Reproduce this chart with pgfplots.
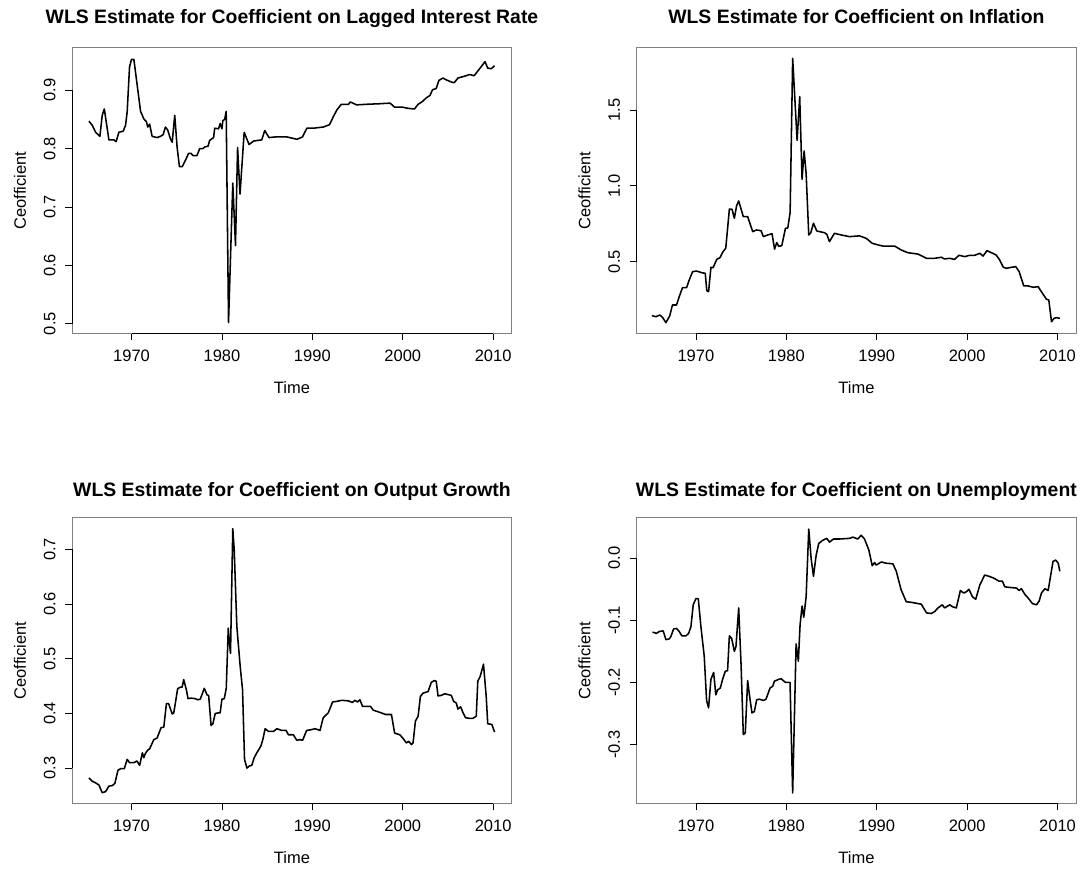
\documentclass[border=0pt]{standalone}
\usepackage{pgfplots}
\pgfplotsset{compat=1.18}
\usepackage{fontspec}
\setmainfont{Liberation Sans}
\pgfplotsset{
  rpanel/.style={
    scale only axis, width=439.4pt, height=285.6pt,
    xmin=1963.45, xmax=2012.05,
    xtick={1970,1980,1990,2000,2010},
    xticklabels={1970,1980,1990,2000,2010},
    tick pos=left, tick align=outside, major tick length=7pt,
    tick style={black, line width=0.8pt},
    axis line style={black!50, line width=0.8pt},
    every tick label/.append style={font=\fontsize{16.5}{19}\selectfont},
    label style={font=\fontsize{16.5}{19}\selectfont},
    every axis title shift=0pt,
    title style={font=\fontsize{19.4}{23}\selectfont\bfseries, at={(axis description cs:0.5,1.0854)}, anchor=base, inner sep=0pt},
    xlabel={Time}, ylabel={Ceofficient},
    xlabel style={at={(axis description cs:0.5,-0.210)}, anchor=base, inner sep=0pt},
    ylabel style={at={(axis description cs:-0.1054,0.5)}, anchor=base, inner sep=0pt},
    xticklabel style={anchor=base, inner sep=0pt, yshift=-21.2pt},
    yticklabel style={xshift=-9.8pt, rotate=90, anchor=base, inner sep=0pt},
    clip=false,
    /pgf/number format/assume math mode=true,
  },
  lowtitle/.style={title style={at={(axis description cs:0.5,1.0735)}}},
  rline/.style={black, line width=1.55pt, line join=round, mark=none},
}
\begin{document}
\begin{tikzpicture}
\useasboundingbox (0,0) rectangle (1081pt,871pt);
% Panel 1
\begin{axis}[rpanel, at={(72.3pt,537.7pt)}, anchor=south west,
  ymin=0.4835, ymax=0.973, ytick={0.5,0.6,0.7,0.8,0.9}, yticklabels={0.5,0.6,0.7,0.8,0.9},
  title={WLS Estimate for Coefficient on Lagged Interest Rate}]
\addplot[rline] coordinates {(1965.29,0.847)(1965.66,0.840)(1966.03,0.828)(1966.5,0.821)(1966.76,0.857)(1966.99,0.868)(1967.5,0.815)(1968.05,0.815)(1968.3,0.812)(1968.6,0.828)(1969.08,0.830)(1969.34,0.840)(1969.52,0.863)(1969.78,0.940)(1970.0,0.953)(1970.26,0.953)(1970.7,0.9)(1971.0,0.864)(1971.36,0.851)(1971.65,0.846)(1971.8,0.837)(1972.0,0.842)(1972.28,0.821)(1972.83,0.819)(1973.2,0.821)(1973.5,0.824)(1973.75,0.837)(1974.0,0.832)(1974.3,0.817)(1974.5,0.811)(1974.78,0.857)(1975.04,0.803)(1975.3,0.769)(1975.6,0.769)(1975.96,0.780)(1976.32,0.792)(1976.58,0.792)(1976.8,0.788)(1977.24,0.788)(1977.54,0.800)(1977.9,0.800)(1978.1,0.803)(1978.46,0.804)(1978.64,0.814)(1978.9,0.817)(1979.08,0.819)(1979.2,0.835)(1979.63,0.834)(1979.8,0.843)(1980.0,0.834)(1980.1,0.848)(1980.3,0.850)(1980.47,0.864)(1980.73,0.502)(1981.2,0.741)(1981.5,0.634)(1981.73,0.802)(1982.0,0.722)(1982.46,0.828)(1983.0,0.807)(1983.5,0.813)(1984.4,0.815)(1984.74,0.831)(1985.2,0.819)(1985.9,0.820)(1987.2,0.820)(1988.3,0.816)(1988.9,0.820)(1989.4,0.835)(1990.1,0.835)(1991.2,0.837)(1991.9,0.841)(1992.3,0.854)(1992.7,0.866)(1993.2,0.876)(1994.0,0.876)(1994.2,0.880)(1994.9,0.875)(1996.0,0.876)(1997.5,0.877)(1998.6,0.878)(1999.1,0.871)(2000.0,0.871)(2000.6,0.869)(2001.3,0.868)(2001.7,0.876)(2002.2,0.881)(2002.6,0.887)(2003.0,0.891)(2003.3,0.901)(2003.7,0.903)(2004.0,0.917)(2004.45,0.921)(2004.8,0.918)(2005.4,0.914)(2005.7,0.913)(2006.1,0.921)(2006.8,0.924)(2007.4,0.927)(2007.9,0.925)(2008.3,0.933)(2008.7,0.941)(2009.1,0.949)(2009.4,0.938)(2009.8,0.937)(2010.15,0.942)};
\draw[black, line width=0.8pt] (axis cs:1970,0.4835) -- (axis cs:2010,0.4835);
\draw[black, line width=0.8pt] (axis cs:1963.45,0.5) -- (axis cs:1963.45,0.9);
\end{axis}
% Panel 2
\begin{axis}[rpanel, at={(636.7pt,537.7pt)}, anchor=south west,
  ymin=0.0275, ymax=1.911, ytick={0.5,1.0,1.5}, yticklabels={0.5,1.0,1.5},
  title={WLS Estimate for Coefficient on Inflation}]
\addplot[rline] coordinates {(1965.13,0.144)(1965.57,0.137)(1966.0,0.148)(1966.3,0.133)(1966.68,0.098)(1967.1,0.142)(1967.4,0.214)(1967.86,0.214)(1968.15,0.269)(1968.52,0.329)(1968.97,0.329)(1969.26,0.379)(1969.63,0.434)(1970.07,0.438)(1970.66,0.427)(1971.03,0.423)(1971.2,0.309)(1971.4,0.302)(1971.66,0.463)(1971.9,0.460)(1972.3,0.515)(1972.66,0.526)(1973.0,0.566)(1973.3,0.588)(1973.7,0.847)(1974.0,0.845)(1974.25,0.786)(1974.5,0.869)(1974.73,0.9)(1975.24,0.797)(1975.72,0.797)(1976.28,0.698)(1976.7,0.709)(1977.2,0.704)(1977.46,0.665)(1977.94,0.676)(1978.42,0.684)(1978.7,0.582)(1978.94,0.626)(1979.16,0.601)(1979.5,0.606)(1979.9,0.720)(1980.16,0.722)(1980.42,0.825)(1980.7,1.841)(1981.19,1.30)(1981.48,1.588)(1981.74,1.043)(1981.97,1.23)(1982.19,1.08)(1982.48,0.676)(1982.7,0.69)(1983.0,0.753)(1983.37,0.702)(1984.22,0.691)(1984.48,0.68)(1984.77,0.632)(1985.32,0.687)(1986.06,0.676)(1986.98,0.665)(1988.09,0.67)(1988.83,0.654)(1989.5,0.621)(1990.3,0.608)(1990.68,0.603)(1991.97,0.603)(1992.7,0.577)(1993.45,0.559)(1994.56,0.550)(1995.5,0.522)(1996.4,0.522)(1997.14,0.529)(1997.5,0.518)(1998.07,0.522)(1998.6,0.515)(1999.1,0.542)(1999.73,0.533)(2000.28,0.542)(2000.83,0.542)(2001.4,0.555)(2001.76,0.537)(2002.2,0.573)(2002.68,0.559)(2003.2,0.544)(2003.6,0.511)(2004.0,0.463)(2004.34,0.456)(2004.9,0.463)(2005.38,0.467)(2005.75,0.434)(2006.26,0.340)(2006.74,0.340)(2007.3,0.331)(2007.85,0.335)(2008.33,0.291)(2008.77,0.252)(2009.03,0.247)(2009.33,0.104)(2009.6,0.126)(2009.88,0.131)(2010.25,0.126)};
\draw[black, line width=0.8pt] (axis cs:1970,0.0275) -- (axis cs:2010,0.0275);
\draw[black, line width=0.8pt] (axis cs:1963.45,0.5) -- (axis cs:1963.45,1.5);
\end{axis}
% Panel 3
\begin{axis}[rpanel, lowtitle, at={(72.3pt,67.7pt)}, anchor=south west,
  ymin=0.2356, ymax=0.758, ytick={0.3,0.4,0.5,0.6,0.7}, yticklabels={0.3,0.4,0.5,0.6,0.7},
  title={WLS Estimate for Coefficient on Output Growth}]
\addplot[rline] coordinates {(1965.3,0.282)(1965.66,0.276)(1966.03,0.273)(1966.4,0.269)(1966.76,0.255)(1967.13,0.257)(1967.5,0.267)(1967.87,0.268)(1968.16,0.272)(1968.5,0.296)(1968.8,0.299)(1969.2,0.299)(1969.52,0.316)(1969.78,0.310)(1970.26,0.310)(1970.6,0.313)(1970.9,0.305)(1971.2,0.328)(1971.36,0.319)(1971.54,0.327)(1971.8,0.333)(1972.0,0.335)(1972.46,0.352)(1972.83,0.355)(1973.27,0.374)(1973.57,0.375)(1973.86,0.418)(1974.1,0.418)(1974.5,0.399)(1974.67,0.401)(1974.85,0.419)(1975.1,0.445)(1975.4,0.448)(1975.6,0.448)(1975.77,0.462)(1976.07,0.443)(1976.25,0.427)(1976.58,0.428)(1977.06,0.427)(1977.3,0.425)(1977.6,0.426)(1978.05,0.446)(1978.35,0.434)(1978.53,0.433)(1978.8,0.378)(1979.0,0.381)(1979.26,0.400)(1979.63,0.401)(1979.8,0.401)(1980.0,0.426)(1980.26,0.427)(1980.48,0.446)(1980.7,0.556)(1980.85,0.525)(1980.95,0.510)(1981.2,0.738)(1981.36,0.699)(1981.65,0.559)(1982.02,0.486)(1982.28,0.443)(1982.5,0.316)(1982.76,0.300)(1983.05,0.304)(1983.3,0.305)(1983.57,0.319)(1983.86,0.328)(1984.3,0.340)(1984.52,0.352)(1984.78,0.372)(1985.15,0.367)(1985.7,0.367)(1986.07,0.372)(1986.6,0.369)(1987.1,0.369)(1987.35,0.361)(1987.9,0.361)(1988.27,0.351)(1988.64,0.352)(1988.93,0.351)(1989.37,0.369)(1989.8,0.370)(1990.3,0.372)(1990.85,0.369)(1991.2,0.392)(1991.76,0.401)(1992.24,0.421)(1992.68,0.422)(1993.24,0.424)(1993.97,0.423)(1994.45,0.420)(1994.7,0.424)(1995.0,0.421)(1995.26,0.425)(1995.55,0.413)(1996.43,0.413)(1996.73,0.406)(1997.46,0.402)(1998.1,0.398)(1998.75,0.398)(1999.1,0.364)(1999.67,0.361)(2000.0,0.355)(2000.4,0.346)(2000.66,0.349)(2000.96,0.343)(2001.14,0.346)(2001.4,0.386)(2001.7,0.395)(2001.95,0.431)(2002.24,0.437)(2002.8,0.440)(2003.16,0.457)(2003.5,0.460)(2003.7,0.459)(2003.9,0.432)(2004.26,0.433)(2004.63,0.436)(2005.37,0.433)(2005.63,0.422)(2005.92,0.419)(2006.1,0.408)(2006.4,0.412)(2006.65,0.402)(2006.95,0.392)(2007.4,0.391)(2007.76,0.391)(2008.13,0.395)(2008.3,0.459)(2008.57,0.468)(2008.93,0.490)(2009.23,0.431)(2009.4,0.381)(2009.85,0.380)(2010.15,0.366)};
\draw[black, line width=0.8pt] (axis cs:1970,0.2356) -- (axis cs:2010,0.2356);
\draw[black, line width=0.8pt] (axis cs:1963.45,0.3) -- (axis cs:1963.45,0.7);
\end{axis}
% Panel 4
\begin{axis}[rpanel, lowtitle, at={(636.7pt,67.7pt)}, anchor=south west,
  ymin=-0.3947, ymax=0.0653, ytick={-0.3,-0.2,-0.1,0}, yticklabels={-0.3,-0.2,-0.1,0.0},
  title={WLS Estimate for Coefficient on Unemployment}]
\addplot[rline] coordinates {(1965.2,-0.119)(1965.64,-0.121)(1965.94,-0.118)(1966.38,-0.117)(1966.68,-0.131)(1967.05,-0.130)(1967.23,-0.126)(1967.53,-0.114)(1967.86,-0.113)(1968.15,-0.118)(1968.45,-0.125)(1968.9,-0.125)(1969.19,-0.121)(1969.45,-0.110)(1969.7,-0.075)(1970.0,-0.065)(1970.26,-0.065)(1970.55,-0.110)(1970.92,-0.158)(1971.18,-0.229)(1971.4,-0.241)(1971.66,-0.195)(1971.96,-0.184)(1972.2,-0.220)(1972.4,-0.212)(1972.7,-0.209)(1972.95,-0.195)(1973.25,-0.182)(1973.5,-0.181)(1973.7,-0.125)(1973.95,-0.129)(1974.25,-0.150)(1974.43,-0.142)(1974.73,-0.080)(1975.0,-0.174)(1975.24,-0.284)(1975.46,-0.281)(1975.72,-0.197)(1975.98,-0.227)(1976.2,-0.249)(1976.46,-0.247)(1976.72,-0.228)(1977.0,-0.227)(1977.46,-0.229)(1977.75,-0.227)(1978.2,-0.209)(1978.5,-0.206)(1978.68,-0.198)(1979.16,-0.195)(1979.42,-0.194)(1979.9,-0.200)(1980.41,-0.200)(1980.7,-0.378)(1981.08,-0.138)(1981.33,-0.166)(1981.52,-0.107)(1981.74,-0.077)(1981.93,-0.095)(1982.19,-0.062)(1982.48,0.047)(1982.74,0.0)(1983.0,-0.029)(1983.3,0.005)(1983.59,0.024)(1984.03,0.029)(1984.48,0.032)(1984.77,0.026)(1985.21,0.031)(1985.88,0.031)(1986.99,0.032)(1987.36,0.034)(1987.9,0.031)(1988.28,0.037)(1988.65,0.031)(1989.13,0.013)(1989.5,-0.012)(1989.76,-0.007)(1989.94,-0.011)(1990.5,-0.006)(1991.05,-0.008)(1991.79,-0.009)(1992.16,-0.021)(1992.7,-0.051)(1993.26,-0.070)(1993.82,-0.071)(1994.19,-0.072)(1994.93,-0.074)(1995.5,-0.088)(1996.03,-0.089)(1996.4,-0.086)(1996.77,-0.080)(1997.25,-0.075)(1997.5,-0.080)(1998.07,-0.075)(1998.36,-0.078)(1998.8,-0.080)(1999.25,-0.052)(1999.62,-0.056)(1999.91,-0.054)(2000.2,-0.050)(2000.58,-0.062)(2000.95,-0.066)(2001.4,-0.043)(2001.94,-0.027)(2002.4,-0.029)(2002.94,-0.032)(2003.53,-0.037)(2003.9,-0.037)(2004.16,-0.046)(2004.71,-0.047)(2005.45,-0.048)(2005.75,-0.052)(2006.0,-0.049)(2006.37,-0.058)(2006.74,-0.064)(2007.22,-0.073)(2007.67,-0.075)(2007.96,-0.069)(2008.22,-0.056)(2008.6,-0.049)(2008.96,-0.052)(2009.22,-0.029)(2009.5,-0.005)(2009.8,-0.003)(2010.07,-0.008)(2010.25,-0.021)};
\draw[black, line width=0.8pt] (axis cs:1970,-0.3947) -- (axis cs:2010,-0.3947);
\draw[black, line width=0.8pt] (axis cs:1963.45,-0.3) -- (axis cs:1963.45,0);
\end{axis}
\end{tikzpicture}
\end{document}
